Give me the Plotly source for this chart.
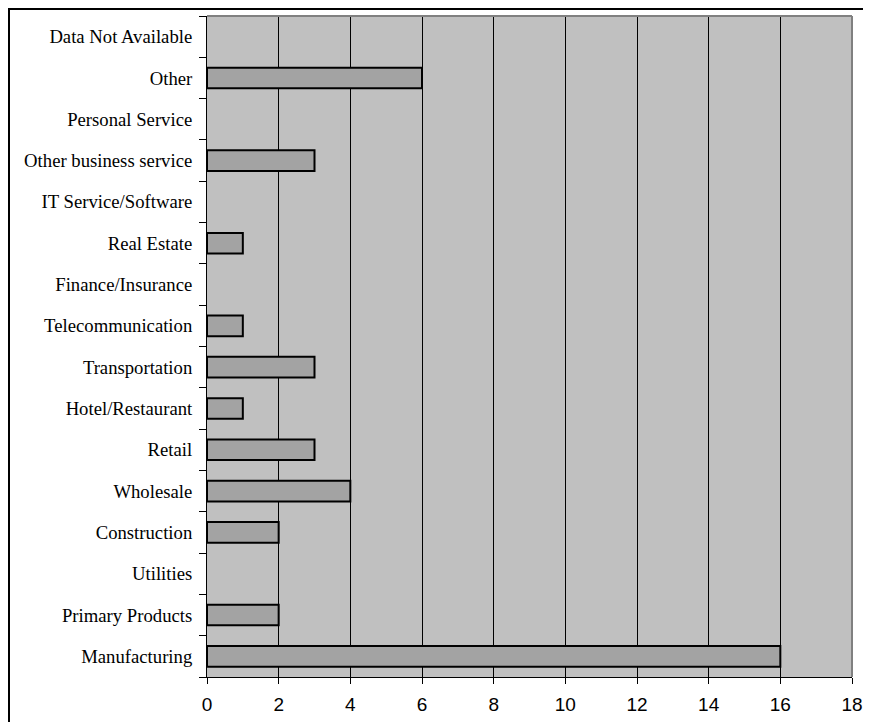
import plotly.graph_objects as go

categories = ["Manufacturing", "Primary Products", "Utilities", "Construction", "Wholesale",
              "Retail", "Hotel/Restaurant", "Transportation", "Telecommunication",
              "Finance/Insurance", "Real Estate", "IT Service/Software",
              "Other business service", "Personal Service", "Other", "Data Not Available"]
values = [16, 2, 0, 2, 4, 3, 1, 3, 1, 0, 1, 0, 3, 0, 6, 0]
x_ticks = [0, 2, 4, 6, 8, 10, 12, 14, 16, 18]

L, R, T, B = 199, 27, 8, 53
W, H = 871, 722
PW, PH = W - L - R, H - T - B

fig = go.Figure(go.Bar(
    y=categories, x=values, orientation="h",
    marker=dict(color="#A3A3A3",
                line=dict(color="black", width=[2 if v else 0 for v in values])),
    width=0.5,
))

fig.update_layout(
    width=W, height=H,
    margin=dict(l=L, r=R, t=T, b=B, autoexpand=False),
    paper_bgcolor="white", plot_bgcolor="#C0C0C0",
    showlegend=False,
)
fig.update_xaxes(
    range=[0, 18], tickvals=x_ticks, ticktext=[str(v) for v in x_ticks],
    showgrid=True, gridcolor="black", gridwidth=1,
    showline=True, linecolor="black", linewidth=1,
    ticks="outside", ticklen=6, tickcolor="black", ticklabelstandoff=4,
    tickfont=dict(family="Liberation Sans, Arial", size=19, color="black"),
    zeroline=False, automargin=False,
)
fig.update_yaxes(
    type="category", categoryorder="array", categoryarray=categories,
    range=[-0.5, len(categories) - 0.5],
    showgrid=False, zeroline=False,
    showline=True, linecolor="black", linewidth=1,
    ticks="outside", ticklen=7, tickcolor="black", tickson="boundaries",
    ticklabelstandoff=10, automargin=False,
    tickfont=dict(family="Liberation Serif, Times New Roman", size=18.7, color="black"),
)
# plot area border (top and right, gray)
fig.add_shape(type="line", xref="paper", yref="paper", x0=0, x1=1, y0=1, y1=1,
              line=dict(color="#808080", width=2), layer="above")
fig.add_shape(type="line", xref="paper", yref="paper", x0=1, x1=1, y0=0, y1=1,
              line=dict(color="#808080", width=2), layer="above")
# outer chart border (clipped at right and bottom)
fig.add_shape(type="rect", xref="paper", yref="paper",
              x0=-(L - 1) / PW, x1=1 + (R + 20) / PW, y0=-(B + 20) / PH, y1=1 + (T - 1) / PH,
              line=dict(color="black", width=2), fillcolor="rgba(0,0,0,0)", layer="above")

fig.write_html("out.html")
